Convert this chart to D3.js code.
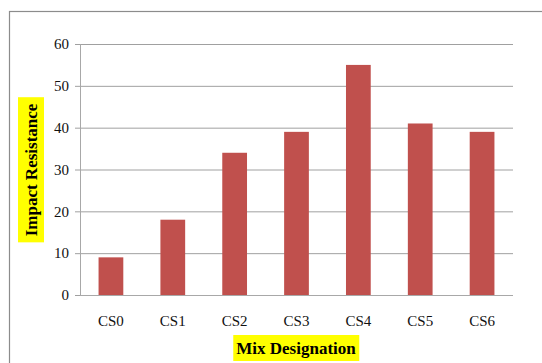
<!DOCTYPE html>
<html>
<head>
<meta charset="utf-8">
<script src="https://cdn.jsdelivr.net/npm/d3@7"></script>
<style>
  body { margin: 0; background: #fff; }
  svg { display: block; }
</style>
</head>
<body>
<svg></svg>
<script>
// chart data
var categories = ['CS0', 'CS1', 'CS2', 'CS3', 'CS4', 'CS5', 'CS6'];
var impactValues = [9, 18, 34, 39, 55, 41, 39];
var yTicks = [0, 10, 20, 30, 40, 50, 60];

var width = 542;
var height = 363;

var svg = d3.select('svg')
  .attr('width', width)
  .attr('height', height);

// outer chart border (runs off the right and bottom edges)
svg.append('rect')
  .attr('x', 9.5).attr('y', 11.5)
  .attr('width', 560).attr('height', 400)
  .attr('fill', 'none')
  .attr('stroke', '#8c8c8c')
  .attr('stroke-width', 1.2);

var plot = { left: 80, right: 513, top: 44, bottom: 295 };

var x = d3.scaleBand()
  .domain(categories)
  .range([plot.left, plot.right])
  .paddingInner(0.6)
  .paddingOuter(0.3);

var y = d3.scaleLinear()
  .domain([0, 60])
  .range([plot.bottom, plot.top]);

// gridlines + y axis
var yAxis = d3.axisLeft(y)
  .tickValues(yTicks)
  .tickSize(-(plot.right - plot.left))
  .tickPadding(11)
  .tickFormat(d3.format('d'));

var yG = svg.append('g')
  .attr('transform', 'translate(' + plot.left + ',0)')
  .call(yAxis);
yG.select('.domain').remove();
yG.selectAll('.tick line')
  .attr('x1', -5)
  .attr('stroke', '#a0a0a0')
  .attr('stroke-width', 1);
yG.selectAll('.tick text')
  .attr('fill', '#111')
  .style('font-family', '"Liberation Serif", "Times New Roman", serif')
  .style('font-size', '15px');

// vertical axis line
svg.append('line')
  .attr('x1', plot.left + 0.5).attr('x2', plot.left + 0.5)
  .attr('y1', plot.top).attr('y2', plot.bottom)
  .attr('stroke', '#a8a8a8');

// bars
svg.append('g').selectAll('rect')
  .data(impactValues)
  .enter().append('rect')
  .attr('x', function(d, i) { return x(categories[i]); })
  .attr('y', function(d) { return y(d); })
  .attr('width', x.bandwidth())
  .attr('height', function(d) { return y(0) - y(d); })
  .attr('fill', '#c0504d');

// baseline
svg.append('line')
  .attr('x1', plot.left).attr('x2', plot.right)
  .attr('y1', plot.bottom + 0.5).attr('y2', plot.bottom + 0.5)
  .attr('stroke', '#a8a8a8');

// x axis labels
var xAxis = d3.axisBottom(x).tickSize(0).tickPadding(20);
var xG = svg.append('g')
  .attr('transform', 'translate(0,' + plot.bottom + ')')
  .call(xAxis);
xG.select('.domain').remove();
xG.selectAll('.tick text')
  .attr('fill', '#111')
  .style('font-family', '"Liberation Serif", "Times New Roman", serif')
  .style('font-size', '15px');

// axis titles with yellow highlight
function titleBox(g, label, pad) {
  var t = g.append('text')
    .attr('text-anchor', 'middle')
    .attr('dominant-baseline', 'central')
    .style('font-family', '"Liberation Serif", "Times New Roman", serif')
    .style('font-weight', 'bold')
    .style('font-size', '17px')
    .attr('fill', '#000')
    .text(label);
  var b = t.node().getBBox();
  g.insert('rect', 'text')
    .attr('x', b.x - pad).attr('y', -13)
    .attr('width', b.width + 2 * pad).attr('height', 26)
    .attr('fill', '#ffff00');
}

var xTitle = svg.append('g').attr('transform', 'translate(296,348)');
titleBox(xTitle, 'Mix Designation', 3);

var yTitle = svg.append('g').attr('transform', 'translate(31,170) rotate(-90)');
titleBox(yTitle, 'Impact Resistance', 6);
</script>
</body>
</html>
